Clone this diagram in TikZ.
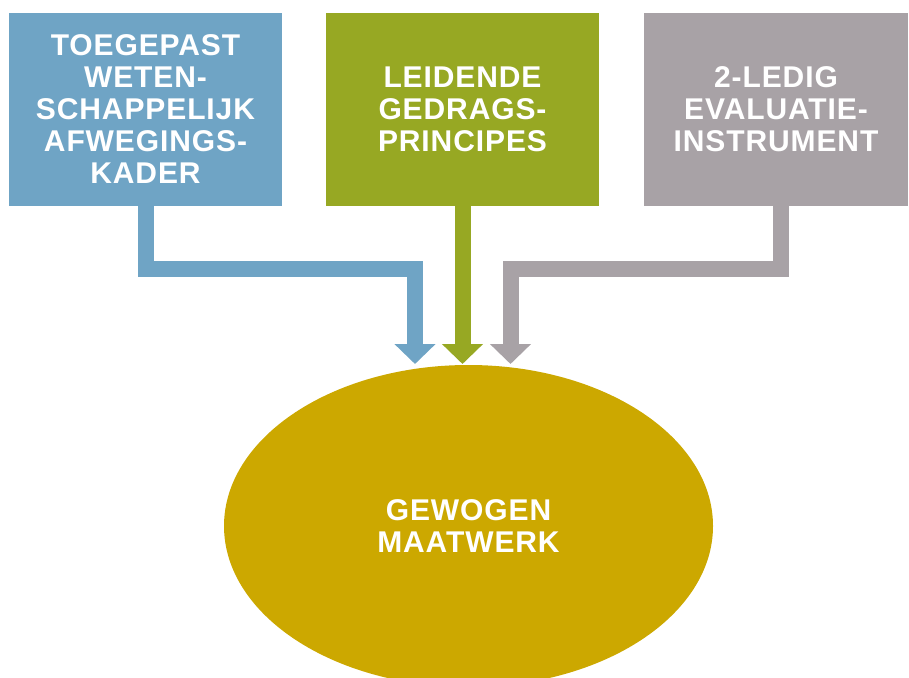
\documentclass[tikz,border=0pt]{standalone}
\usepackage{fontspec}
\setmainfont{Liberation Sans}[LetterSpace=3]
\usepackage{tikz}
\usetikzlibrary{shapes.geometric, arrows.meta}
\definecolor{kaderblue}{HTML}{6FA4C5}
\definecolor{principgreen}{HTML}{97A823}
\definecolor{instrgrey}{HTML}{A8A2A6}
\definecolor{maatgold}{HTML}{CCA800}

\begin{document}
\begin{tikzpicture}[x=1pt, y=-1pt,
    box/.style={rectangle, minimum width=273pt, minimum height=193pt, inner sep=0pt, align=center, text=white, font=\fontsize{30}{32}\selectfont\bfseries},
    flow/.style={line width=16pt, line join=miter, -{Triangle[width=40pt, length=20pt]}}]
    \clip (0, 0) rectangle (909, 677);

    \node[box, fill=kaderblue] at (145.5, 109.5) (kader) {TOEGEPAST\\WETEN-\\SCHAPPELIJK\\AFWEGINGS-\\KADER};
    \node[box, fill=principgreen] at (462.5, 109.5) (principes) {LEIDENDE\\GEDRAGS-\\PRINCIPES};
    \node[box, fill=instrgrey, minimum width=264pt] at (776, 109.5) (instrument) {2-LEDIG\\EVALUATIE-\\INSTRUMENT};
    \node[ellipse, fill=maatgold, minimum width=489pt, minimum height=322pt, inner sep=0pt, align=center, text=white, font=\fontsize{30}{32}\selectfont\bfseries] at (468.5, 526) (maatwerk) {GEWOGEN\\MAATWERK};

    \coordinate (in1) at (415, 364);
    \coordinate (in2) at (462.5, 364);
    \coordinate (in3) at (510.5, 364);

    \draw[flow, kaderblue] (kader.south) -- ++(0, 63) -| (in1);
    \draw[flow, principgreen] (principes.south) -- (in2);
    \draw[flow, instrgrey] ([xshift=4.5pt]instrument.south) -- ++(0, 63) -| (in3);
\end{tikzpicture}
\end{document}
